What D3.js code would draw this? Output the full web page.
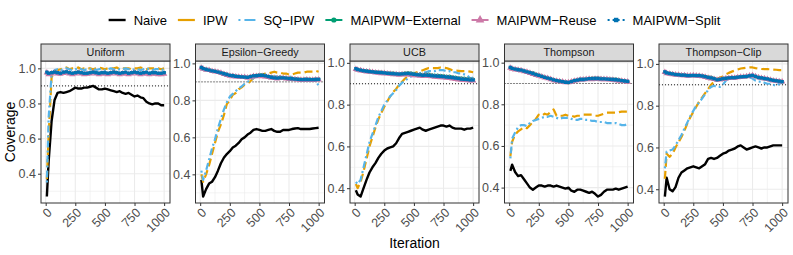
<!DOCTYPE html>
<meta charset="utf-8">
<body style="margin:0;background:#fff">
<svg id="chart"></svg>
<script src="https://d3js.org/d3.v7.min.js"></script>
<style>
  text { font-family: "Liberation Sans", Arial, Helvetica, sans-serif; }
</style>
<script>

// iterations shared by every panel
var iterations = [10, 25, 50, 75, 100, 125, 150, 175, 200, 225,
  250, 275, 300, 325, 350, 375, 400, 425, 450, 475,
  500, 525, 550, 575, 600, 625, 650, 675, 700, 725,
  750, 775, 800, 825, 850, 875, 900, 925, 950, 975, 1000]

var panels = ['Uniform', 'Epsilon\u2212Greedy', 'UCB', 'Thompson', 'Thompson\u2212Clip']

var seriesNames = ['Naive', 'IPW', 'SQ\u2212IPW', 'MAIPWM\u2212External', 'MAIPWM\u2212Reuse', 'MAIPWM\u2212Split']

// coverage, one row per panel (same order as panels)
var naive = [
  [0.27, 0.47, 0.70, 0.82, 0.86, 0.865, 0.86, 0.865, 0.87, 0.88,
   0.89, 0.885, 0.885, 0.89, 0.89, 0.895, 0.90, 0.89, 0.88, 0.88,
   0.885, 0.88, 0.875, 0.87, 0.865, 0.87, 0.86, 0.855, 0.86, 0.85,
   0.84, 0.845, 0.835, 0.83, 0.81, 0.80, 0.795, 0.80, 0.80, 0.79, 0.79],
  [0.37, 0.28, 0.32, 0.35, 0.36, 0.385, 0.42, 0.46, 0.49, 0.51,
   0.525, 0.545, 0.555, 0.57, 0.59, 0.60, 0.615, 0.625, 0.64, 0.645,
   0.64, 0.635, 0.635, 0.64, 0.645, 0.635, 0.63, 0.63, 0.64, 0.64,
   0.64, 0.645, 0.648, 0.65, 0.645, 0.645, 0.646, 0.645, 0.648, 0.65, 0.652],
  [0.39, 0.37, 0.36, 0.40, 0.44, 0.475, 0.50, 0.52, 0.545, 0.565,
   0.58, 0.59, 0.595, 0.60, 0.615, 0.64, 0.66, 0.665, 0.67, 0.675,
   0.68, 0.685, 0.69, 0.68, 0.675, 0.68, 0.685, 0.69, 0.695, 0.70,
   0.70, 0.695, 0.70, 0.69, 0.685, 0.685, 0.685, 0.68, 0.685, 0.685, 0.69],
  [0.48, 0.51, 0.475, 0.455, 0.46, 0.44, 0.42, 0.40, 0.39, 0.40,
   0.41, 0.41, 0.405, 0.41, 0.41, 0.405, 0.41, 0.405, 0.40, 0.395,
   0.40, 0.385, 0.38, 0.39, 0.39, 0.385, 0.38, 0.375, 0.38, 0.37,
   0.357, 0.365, 0.38, 0.39, 0.39, 0.39, 0.395, 0.39, 0.395, 0.40, 0.405],
  [0.365, 0.455, 0.40, 0.39, 0.41, 0.455, 0.48, 0.49, 0.50, 0.505,
   0.51, 0.505, 0.50, 0.51, 0.52, 0.545, 0.55, 0.545, 0.55, 0.56,
   0.57, 0.575, 0.585, 0.59, 0.595, 0.605, 0.61, 0.60, 0.59, 0.595,
   0.60, 0.605, 0.60, 0.595, 0.60, 0.60, 0.605, 0.61, 0.61, 0.61, 0.61]
]

var ipw = [
  [0.37, 0.62, 0.95, 0.98, 0.99, 0.995, 1.0, 1.005, 0.995, 1.0,
   1.0, 1.005, 0.995, 1.0, 1.0, 1.0, 0.995, 1.0, 1.005, 1.0,
   0.995, 1.0, 1.0, 1.0, 1.005, 0.995, 1.0, 1.0, 1.0, 0.995,
   1.0, 1.0, 1.005, 1.0, 0.995, 1.0, 1.0, 1.0, 1.0, 0.995, 1.0],
  [0.40, 0.36, 0.40, 0.45, 0.51, 0.57, 0.63, 0.67, 0.72, 0.78,
   0.80, 0.83, 0.84, 0.86, 0.87, 0.885, 0.89, 0.905, 0.92, 0.93,
   0.935, 0.94, 0.945, 0.945, 0.95, 0.955, 0.95, 0.95, 0.945, 0.945,
   0.94, 0.94, 0.945, 0.95, 0.95, 0.95, 0.955, 0.955, 0.955, 0.96, 0.955],
  [0.42, 0.40, 0.43, 0.48, 0.54, 0.60, 0.645, 0.69, 0.73, 0.76,
   0.79, 0.815, 0.84, 0.86, 0.875, 0.895, 0.91, 0.925, 0.935, 0.945,
   0.95, 0.955, 0.96, 0.965, 0.97, 0.975, 0.975, 0.975, 0.975, 0.978,
   0.978, 0.975, 0.97, 0.965, 0.963, 0.962, 0.96, 0.96, 0.96, 0.958, 0.955],
  [0.55, 0.62, 0.655, 0.67, 0.68, 0.69, 0.685, 0.70, 0.715, 0.73,
   0.75, 0.745, 0.755, 0.75, 0.765, 0.775, 0.745, 0.745, 0.745, 0.75,
   0.745, 0.745, 0.74, 0.745, 0.745, 0.75, 0.75, 0.75, 0.75, 0.745,
   0.745, 0.75, 0.755, 0.76, 0.76, 0.76, 0.76, 0.762, 0.765, 0.765, 0.765],
  [0.45, 0.57, 0.555, 0.57, 0.60, 0.625, 0.65, 0.68, 0.715, 0.745,
   0.77, 0.795, 0.82, 0.84, 0.86, 0.88, 0.90, 0.915, 0.925, 0.935,
   0.94, 0.95, 0.957, 0.963, 0.968, 0.973, 0.978, 0.98, 0.982, 0.983,
   0.983, 0.98, 0.978, 0.976, 0.975, 0.975, 0.974, 0.973, 0.972, 0.97, 0.97]
]

var sqIpw = [
  [0.35, 0.72, 0.97, 0.99, 0.995, 0.99, 0.995, 1.0, 0.995, 0.99,
   0.995, 1.0, 0.995, 0.99, 0.995, 0.995, 1.0, 0.99, 0.995, 0.995,
   0.99, 0.995, 1.0, 0.995, 0.99, 0.995, 0.995, 1.0, 0.995, 0.99,
   0.995, 0.995, 0.99, 0.995, 1.0, 0.995, 0.99, 0.995, 0.995, 0.99, 0.995],
  [0.42, 0.37, 0.42, 0.48, 0.54, 0.59, 0.65, 0.70, 0.75, 0.79,
   0.82, 0.835, 0.85, 0.865, 0.875, 0.89, 0.90, 0.91, 0.92, 0.93,
   0.935, 0.935, 0.93, 0.93, 0.925, 0.93, 0.93, 0.925, 0.92, 0.925,
   0.93, 0.925, 0.92, 0.92, 0.915, 0.92, 0.915, 0.91, 0.91, 0.905, 0.88],
  [0.43, 0.42, 0.44, 0.50, 0.56, 0.62, 0.66, 0.70, 0.74, 0.77,
   0.80, 0.82, 0.84, 0.855, 0.87, 0.89, 0.905, 0.915, 0.925, 0.935,
   0.94, 0.945, 0.95, 0.955, 0.955, 0.96, 0.96, 0.96, 0.965, 0.965,
   0.965, 0.96, 0.96, 0.955, 0.955, 0.95, 0.95, 0.945, 0.94, 0.925, 0.93],
  [0.54, 0.635, 0.665, 0.69, 0.70, 0.70, 0.695, 0.71, 0.72, 0.725,
   0.73, 0.735, 0.74, 0.74, 0.745, 0.74, 0.735, 0.73, 0.735, 0.735,
   0.735, 0.73, 0.725, 0.725, 0.73, 0.73, 0.725, 0.725, 0.72, 0.72,
   0.715, 0.715, 0.715, 0.71, 0.71, 0.71, 0.71, 0.705, 0.70, 0.70, 0.705],
  [0.50, 0.58, 0.585, 0.59, 0.61, 0.635, 0.66, 0.69, 0.72, 0.75,
   0.775, 0.80, 0.815, 0.835, 0.855, 0.875, 0.89, 0.895, 0.89, 0.89,
   0.90, 0.92, 0.93, 0.935, 0.935, 0.94, 0.94, 0.94, 0.935, 0.935,
   0.93, 0.92, 0.915, 0.915, 0.91, 0.905, 0.905, 0.90, 0.895, 0.905, 0.91]
]

var maipwmExternal = [
  [0.975, 0.97, 0.975, 0.98, 0.975, 0.97, 0.975, 0.98, 0.975, 0.97,
   0.975, 0.98, 0.975, 0.97, 0.97, 0.975, 0.98, 0.975, 0.97, 0.975,
   0.975, 0.97, 0.975, 0.98, 0.975, 0.97, 0.975, 0.975, 0.97, 0.975,
   0.98, 0.975, 0.97, 0.975, 0.975, 0.97, 0.975, 0.975, 0.97, 0.97, 0.975],
  [0.975, 0.972, 0.968, 0.965, 0.96, 0.958, 0.955, 0.95, 0.945, 0.94,
   0.935, 0.935, 0.932, 0.93, 0.928, 0.927, 0.925, 0.93, 0.933, 0.935,
   0.937, 0.938, 0.935, 0.93, 0.927, 0.925, 0.923, 0.925, 0.922, 0.92,
   0.92, 0.918, 0.917, 0.915, 0.913, 0.914, 0.915, 0.914, 0.913, 0.914, 0.915],
  [0.97, 0.968, 0.965, 0.963, 0.962, 0.96, 0.958, 0.957, 0.955, 0.955,
   0.953, 0.952, 0.95, 0.95, 0.948, 0.947, 0.948, 0.95, 0.952, 0.95,
   0.948, 0.945, 0.945, 0.943, 0.945, 0.944, 0.942, 0.94, 0.94, 0.938,
   0.937, 0.935, 0.935, 0.932, 0.93, 0.928, 0.926, 0.925, 0.923, 0.922, 0.92],
  [0.975, 0.972, 0.97, 0.967, 0.965, 0.96, 0.957, 0.953, 0.95, 0.945,
   0.94, 0.935, 0.93, 0.927, 0.923, 0.918, 0.915, 0.912, 0.91, 0.907,
   0.905, 0.91, 0.915, 0.917, 0.92, 0.92, 0.922, 0.923, 0.925, 0.925,
   0.925, 0.924, 0.923, 0.922, 0.922, 0.92, 0.92, 0.918, 0.915, 0.913, 0.91],
  [0.96, 0.958, 0.955, 0.953, 0.95, 0.95, 0.948, 0.947, 0.945, 0.945,
   0.944, 0.945, 0.945, 0.943, 0.94, 0.937, 0.935, 0.93, 0.925, 0.927,
   0.93, 0.932, 0.933, 0.935, 0.935, 0.937, 0.938, 0.94, 0.94, 0.942,
   0.945, 0.94, 0.935, 0.933, 0.93, 0.928, 0.925, 0.922, 0.92, 0.918, 0.915]
]

var maipwmReuse = [
  [0.975, 0.965, 0.97, 0.975, 0.97, 0.968, 0.972, 0.975, 0.97, 0.965,
   0.97, 0.975, 0.97, 0.965, 0.968, 0.97, 0.975, 0.97, 0.965, 0.97,
   0.97, 0.965, 0.97, 0.975, 0.97, 0.965, 0.97, 0.97, 0.965, 0.97,
   0.975, 0.97, 0.965, 0.97, 0.97, 0.965, 0.97, 0.968, 0.965, 0.965, 0.968],
  [0.975, 0.97, 0.965, 0.963, 0.958, 0.955, 0.952, 0.948, 0.942, 0.937,
   0.932, 0.93, 0.928, 0.927, 0.925, 0.925, 0.922, 0.925, 0.93, 0.93,
   0.932, 0.93, 0.928, 0.925, 0.922, 0.92, 0.918, 0.92, 0.92, 0.918,
   0.916, 0.915, 0.913, 0.912, 0.91, 0.91, 0.912, 0.91, 0.91, 0.912, 0.912],
  [0.97, 0.966, 0.963, 0.96, 0.958, 0.957, 0.955, 0.953, 0.952, 0.95,
   0.95, 0.948, 0.947, 0.945, 0.945, 0.943, 0.945, 0.944, 0.945, 0.943,
   0.94, 0.94, 0.938, 0.937, 0.938, 0.936, 0.935, 0.933, 0.932, 0.93,
   0.93, 0.928, 0.927, 0.925, 0.922, 0.92, 0.918, 0.917, 0.916, 0.915, 0.915],
  [0.975, 0.97, 0.967, 0.965, 0.962, 0.958, 0.955, 0.95, 0.945, 0.94,
   0.937, 0.933, 0.928, 0.925, 0.92, 0.915, 0.912, 0.91, 0.908, 0.905,
   0.905, 0.908, 0.912, 0.915, 0.918, 0.918, 0.92, 0.922, 0.92, 0.922,
   0.922, 0.92, 0.92, 0.92, 0.918, 0.917, 0.915, 0.913, 0.912, 0.91, 0.908],
  [0.96, 0.955, 0.952, 0.95, 0.948, 0.947, 0.945, 0.945, 0.943, 0.944,
   0.945, 0.943, 0.942, 0.94, 0.937, 0.933, 0.93, 0.927, 0.923, 0.925,
   0.927, 0.93, 0.932, 0.933, 0.933, 0.935, 0.937, 0.938, 0.94, 0.943,
   0.945, 0.94, 0.935, 0.932, 0.93, 0.927, 0.923, 0.92, 0.918, 0.916, 0.915]
]

var maipwmSplit = [
  [0.978, 0.972, 0.975, 0.978, 0.975, 0.972, 0.978, 0.98, 0.975, 0.972,
   0.975, 0.978, 0.975, 0.972, 0.972, 0.975, 0.978, 0.975, 0.972, 0.975,
   0.975, 0.972, 0.975, 0.978, 0.975, 0.972, 0.975, 0.978, 0.972, 0.975,
   0.978, 0.975, 0.972, 0.975, 0.978, 0.972, 0.975, 0.975, 0.972, 0.972, 0.975],
  [0.978, 0.972, 0.967, 0.964, 0.96, 0.957, 0.953, 0.949, 0.944, 0.94,
   0.935, 0.933, 0.93, 0.928, 0.927, 0.926, 0.924, 0.928, 0.932, 0.933,
   0.935, 0.935, 0.932, 0.928, 0.925, 0.922, 0.92, 0.922, 0.922, 0.92,
   0.918, 0.917, 0.915, 0.914, 0.912, 0.912, 0.913, 0.912, 0.912, 0.913, 0.914],
  [0.972, 0.968, 0.965, 0.962, 0.96, 0.958, 0.957, 0.955, 0.954, 0.953,
   0.952, 0.95, 0.949, 0.948, 0.947, 0.946, 0.947, 0.948, 0.949, 0.947,
   0.945, 0.943, 0.942, 0.94, 0.941, 0.94, 0.938, 0.937, 0.936, 0.935,
   0.934, 0.932, 0.931, 0.929, 0.927, 0.925, 0.922, 0.921, 0.92, 0.918, 0.918],
  [0.977, 0.973, 0.969, 0.966, 0.964, 0.96, 0.956, 0.952, 0.948, 0.943,
   0.939, 0.934, 0.929, 0.926, 0.922, 0.917, 0.914, 0.911, 0.909, 0.906,
   0.905, 0.909, 0.914, 0.916, 0.919, 0.919, 0.921, 0.923, 0.923, 0.924,
   0.924, 0.922, 0.922, 0.921, 0.92, 0.919, 0.918, 0.916, 0.914, 0.912, 0.91],
  [0.962, 0.957, 0.954, 0.952, 0.949, 0.948, 0.946, 0.946, 0.944, 0.944,
   0.945, 0.944, 0.944, 0.942, 0.939, 0.935, 0.933, 0.929, 0.924, 0.926,
   0.929, 0.931, 0.933, 0.934, 0.934, 0.936, 0.938, 0.939, 0.94, 0.943,
   0.945, 0.94, 0.935, 0.933, 0.93, 0.928, 0.924, 0.921, 0.919, 0.917, 0.915]
]

var targetLevel = 0.9

var W = 793, H = 255
var plotLeft = 41, plotRight = 788
var stripTop = 44, panelTop = 61, panelBottom = 203
var gap = 25.5
var panelW = (plotRight - plotLeft - gap * 4) / 5

var series = [
  { name: seriesNames[0], values: naive, color: '#000000', width: 2.4, dash: null, keyDash: null, shape: null },
  { name: seriesNames[1], values: ipw, color: '#E69F00', width: 2.2, dash: '8,4', keyDash: null, shape: null },
  { name: seriesNames[2], values: sqIpw, color: '#56B4E9', width: 2.2, dash: '2,3,7,3', keyDash: '2,4,11', shape: null },
  { name: seriesNames[3], values: maipwmExternal, color: '#009E73', width: 1.4, dash: null, keyDash: null, shape: 'circle' },
  { name: seriesNames[4], values: maipwmReuse, color: '#CC79A7', width: 1.4, dash: '6,2', keyDash: null, shape: 'triangle' },
  { name: seriesNames[5], values: maipwmSplit, color: '#0072B2', width: 1.4, dash: '1,2', keyDash: '2,3', shape: 'square' }
]

var svg = d3.select('#chart').attr('width', W).attr('height', H)
svg.append('rect').attr('width', W).attr('height', H).attr('fill', 'white')

function symbolFor(shape, scale) {
  scale = scale || 1
  if (shape === 'triangle') return d3.symbol(d3.symbolTriangle, 18 * scale)()
  if (shape === 'square') return d3.symbol(d3.symbolSquare, 11 * scale)()
  return d3.symbol(d3.symbolCircle, 12 * scale)()
}

var xExt = d3.extent(iterations)
var xPad = (xExt[1] - xExt[0]) * 0.05

panels.forEach(function (panelName, i) {
  var x0 = plotLeft + i * (panelW + gap)
  var x = d3.scaleLinear()
    .domain([xExt[0] - xPad, xExt[1] + xPad])
    .range([x0, x0 + panelW])

  var allVals = d3.merge(series.map(function (s) { return s.values[i] }))
  var yExt = d3.extent(allVals)
  var yPad = (yExt[1] - yExt[0]) * 0.05
  var y = d3.scaleLinear()
    .domain([yExt[0] - yPad, yExt[1] + yPad])
    .range([panelBottom, panelTop])

  var g = svg.append('g')

  // grid: minor then major
  var xMajor = [0, 250, 500, 750, 1000]
  var xMinor = [125, 375, 625, 875]
  var yMajor = y.ticks(4)
  var step = yMajor[1] - yMajor[0]
  var yMinor = []
  yMajor.forEach(function (v) { yMinor.push(v - step / 2) })
  yMinor.push(yMajor[yMajor.length - 1] + step / 2)
  yMinor = yMinor.filter(function (v) { return v > y.domain()[0] && v < y.domain()[1] })

  g.selectAll('.yminor').data(yMinor).enter().append('line')
    .attr('x1', x0).attr('x2', x0 + panelW)
    .attr('y1', function (d) { return y(d) }).attr('y2', function (d) { return y(d) })
    .attr('stroke', '#EBEBEB').attr('stroke-width', 0.6)
  g.selectAll('.xminor').data(xMinor).enter().append('line')
    .attr('y1', panelTop).attr('y2', panelBottom)
    .attr('x1', function (d) { return x(d) }).attr('x2', function (d) { return x(d) })
    .attr('stroke', '#EBEBEB').attr('stroke-width', 0.6)
  g.selectAll('.ymajor').data(yMajor).enter().append('line')
    .attr('x1', x0).attr('x2', x0 + panelW)
    .attr('y1', function (d) { return y(d) }).attr('y2', function (d) { return y(d) })
    .attr('stroke', '#EBEBEB').attr('stroke-width', 1.1)
  g.selectAll('.xmajor').data(xMajor).enter().append('line')
    .attr('y1', panelTop).attr('y2', panelBottom)
    .attr('x1', function (d) { return x(d) }).attr('x2', function (d) { return x(d) })
    .attr('stroke', '#EBEBEB').attr('stroke-width', 1.1)

  // reference line at 0.9
  g.append('line')
    .attr('x1', x0).attr('x2', x0 + panelW)
    .attr('y1', y(targetLevel)).attr('y2', y(targetLevel))
    .attr('stroke', '#000').attr('stroke-width', 0.9)
    .attr('stroke-dasharray', '1,2')

  var clipId = 'clip' + i
  g.append('clipPath').attr('id', clipId).append('rect')
    .attr('x', x0).attr('y', panelTop).attr('width', panelW).attr('height', panelBottom - panelTop)
  var dataG = g.append('g').attr('clip-path', 'url(#' + clipId + ')')

  series.forEach(function (s) {
    var pts = iterations.map(function (it, k) { return [it, s.values[i][k]] })
    var line = d3.line()
      .x(function (d) { return x(d[0]) })
      .y(function (d) { return y(d[1]) })
    dataG.append('path')
      .attr('d', line(pts))
      .attr('fill', 'none')
      .attr('stroke', s.color)
      .attr('stroke-width', s.width)
      .attr('stroke-dasharray', s.dash)
      .attr('stroke-linejoin', 'round')
    if (s.shape) {
      dataG.selectAll(null).data(pts).enter().append('path')
        .attr('d', symbolFor(s.shape))
        .attr('transform', function (d) { return 'translate(' + x(d[0]) + ',' + y(d[1]) + ')' })
        .attr('fill', s.color)
    }
  })

  // panel border
  g.append('rect')
    .attr('x', x0).attr('y', panelTop).attr('width', panelW).attr('height', panelBottom - panelTop)
    .attr('fill', 'none').attr('stroke', '#333333').attr('stroke-width', 1)

  // strip
  g.append('rect')
    .attr('x', x0).attr('y', stripTop).attr('width', panelW).attr('height', panelTop - stripTop)
    .attr('fill', '#D9D9D9').attr('stroke', '#333333').attr('stroke-width', 1)
  g.append('text')
    .attr('x', x0 + panelW / 2).attr('y', (stripTop + panelTop) / 2)
    .attr('dy', '0.35em').attr('text-anchor', 'middle')
    .attr('font-size', 10.8).attr('fill', '#1A1A1A')
    .text(panelName)

  // y axis
  var yAxis = g.append('g').attr('transform', 'translate(' + x0 + ',0)')
    .call(d3.axisLeft(y).tickValues(yMajor).tickSize(3).tickPadding(2).tickFormat(d3.format('.1f')))
  yAxis.select('.domain').remove()
  yAxis.selectAll('line').attr('stroke', '#333333')
  yAxis.selectAll('text').attr('fill', '#4D4D4D').attr('font-size', 12.5)
    .attr('font-family', '"Liberation Sans", Arial, sans-serif')

  // x axis
  var xAxis = g.append('g').attr('transform', 'translate(0,' + panelBottom + ')')
    .call(d3.axisBottom(x).tickValues(xMajor).tickSize(3).tickFormat(d3.format('d')))
  xAxis.select('.domain').remove()
  xAxis.selectAll('line').attr('stroke', '#333333')
  xAxis.selectAll('text')
    .attr('fill', '#4D4D4D').attr('font-size', 12.5)
    .attr('font-family', '"Liberation Sans", Arial, sans-serif')
    .attr('text-anchor', 'end')
    .attr('y', 0).attr('dy', '0.72em')
    .attr('transform', 'translate(0,4) rotate(-45)')
})

// axis titles
svg.append('text')
  .attr('x', (plotLeft + plotRight) / 2).attr('y', 248)
  .attr('text-anchor', 'middle').attr('font-size', 14).attr('fill', '#000')
  .text('Iteration')
svg.append('text')
  .attr('transform', 'translate(15,' + ((panelTop + panelBottom) / 2) + ') rotate(-90)')
  .attr('text-anchor', 'middle').attr('font-size', 14).attr('fill', '#000')
  .text('Coverage')

// legend
var legend = svg.append('g')
var keyW = 17, keyGap = 8, itemGap = 11
var items = legend.selectAll('g').data(series).enter().append('g')
items.append('text')
  .attr('x', keyW + keyGap).attr('y', 20).attr('dy', '0.35em')
  .attr('font-size', 13).attr('fill', '#000')
  .text(function (d) { return d.name })
var cursor = 0
items.each(function (d) {
  var w = this.querySelector('text').getComputedTextLength()
  d3.select(this).attr('transform', 'translate(' + cursor + ',0)')
  var key = d3.select(this)
  key.append('line')
    .attr('x1', 0).attr('x2', keyW).attr('y1', 20).attr('y2', 20)
    .attr('stroke', d.color).attr('stroke-width', d.shape ? 2 : d.width)
    .attr('stroke-dasharray', d.keyDash)
  if (d.shape) {
    key.append('path').attr('d', symbolFor(d.shape, 1.8))
      .attr('transform', 'translate(' + keyW / 2 + ',20)').attr('fill', d.color)
  }
  cursor += keyW + keyGap + w + itemGap
})
var legendW = cursor - itemGap
legend.attr('transform', 'translate(' + ((plotLeft + plotRight) / 2 - legendW / 2) + ',0)')

</script>
